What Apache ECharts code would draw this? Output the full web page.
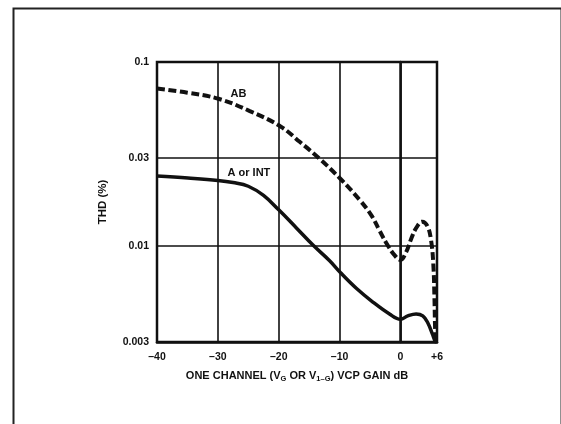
<!DOCTYPE html>
<html>
<head>
<meta charset="utf-8">
<script src="https://cdn.jsdelivr.net/npm/echarts@6/dist/echarts.min.js"></script>
<style>
html,body{margin:0;padding:0;background:#fff;}
#c{width:561px;height:424px;}
</style>
</head>
<body>
<div id="c"></div>
<script>
// Gain (dB) and THD (%) for class AB (dashed)
const abGain = [-40, -35, -29.9, -24.75, -19.7, -16.56, -13.3, -9.84, -6.72, -4.75, -3.44, -2.13, -0.98, 0, 0.93, 1.75, 2.57, 3.56, 4.43, 5.03, 5.4, 5.57, 5.74, 5.9];
const abThd  = [0.0717, 0.0681, 0.0631, 0.0541, 0.0446, 0.0368, 0.0298, 0.0231, 0.0178, 0.0146, 0.0121, 0.0101, 0.0089, 0.00838, 0.00925, 0.0109, 0.0125, 0.01354, 0.0128, 0.0107, 0.0079, 0.0054, 0.0032, 0.003];
// Gain (dB) and THD (%) for class A or INT (solid)
const aGain = [-40, -34.9, -30, -27.5, -25, -22.5, -20, -17.1, -14.38, -11.64, -9.84, -7.26, -4.54, -1.8, 0, 1.2, 2.57, 3.66, 4.48, 5.3, 5.74, 5.9];
const aThd  = [0.0240, 0.0234, 0.0227, 0.0221, 0.0211, 0.0188, 0.0157, 0.01252, 0.0101, 0.0083, 0.00714, 0.00588, 0.00495, 0.00426, 0.00399, 0.00416, 0.00426, 0.00416, 0.00382, 0.00328, 0.00301, 0.003];

const xTicks = [-40, -30, -20, -10, 0, 6];
const xTickLabels = ['\u201340', '\u201330', '\u201320', '\u201310', '0', '+6'];
const yTicks = [0.003, 0.01, 0.03, 0.1];
const yTickLabels = ['0.003', '0.01', '0.03', '0.1'];

const seriesNames = ['AB', 'A or INT'];
const labelGain = [-26.6, -24.9];
const labelThd = [0.0672, 0.0248];

const INK = '#111';
const FONT = 'Liberation Sans, Arial, sans-serif';

function pairs(xs, ys) { return xs.map((x, i) => [x, ys[i]]); }

const chart = echarts.init(document.getElementById('c'), null, {renderer: 'canvas'});
chart.setOption({
  animation: false,
  backgroundColor: '#fff',
  graphic: [{
    type: 'rect', left: 11, top: 6, z: -10,
    shape: {x: 0, y: 0, width: 548, height: 440},
    style: {fill: 'none', stroke: '#222', lineWidth: 2}
  }],
  grid: {left: 157, top: 62, right: 124, bottom: 82, show: true, borderColor: INK, borderWidth: 2.5, backgroundColor: 'transparent'},
  xAxis: {
    type: 'value', min: -40, max: 6,
    name: '{n|ONE CHANNEL (V}{s|G}{n| OR V}{s|1\u2013G}{n|) VCP GAIN dB}',
    nameLocation: 'middle', nameGap: 27,
    nameTextStyle: {
      rich: {
        n: {fontFamily: FONT, fontWeight: 'bold', fontSize: 11, color: INK, lineHeight: 14, verticalAlign: 'middle'},
        s: {fontFamily: FONT, fontWeight: 'bold', fontSize: 7.5, color: INK, lineHeight: 14, verticalAlign: 'bottom', padding: [6, 0, 0, 0]}
      }
    },
    axisLine: {show: true, lineStyle: {color: INK, width: 2.5}},
    axisTick: {show: false, customValues: xTicks},
    axisLabel: {
      customValues: xTicks, margin: 10,
      fontFamily: FONT, fontWeight: 'bold', fontSize: 10.5, color: INK,
      formatter: v => xTickLabels[xTicks.indexOf(v)]
    },
    splitLine: {show: true, lineStyle: {color: INK, width: 1.6}}
  },
  yAxis: {
    type: 'log', min: 0.003, max: 0.1, logBase: 10,
    name: 'THD (%)', nameLocation: 'middle', nameGap: 48, nameRotate: 90,
    nameTextStyle: {fontFamily: FONT, fontWeight: 'bold', fontSize: 11.5, color: INK},
    axisLine: {show: true, lineStyle: {color: INK, width: 2.5}},
    axisTick: {show: false, customValues: yTicks},
    axisLabel: {
      customValues: yTicks, margin: 8,
      fontFamily: FONT, fontWeight: 'bold', fontSize: 10.5, color: INK,
      formatter: v => { let best = 0; yTicks.forEach((t, i) => { if (Math.abs(Math.log(t) - Math.log(v)) < Math.abs(Math.log(yTicks[best]) - Math.log(v))) best = i; }); return yTickLabels[best]; }
    },
    splitLine: {show: true, lineStyle: {color: INK, width: 1.6}}
  },
  series: [
    {
      name: seriesNames[0], type: 'line', data: pairs(abGain, abThd),
      smooth: 0.4, symbol: 'none', clip: true,
      lineStyle: {color: INK, width: 4, type: [8, 3.5]},
      markPoint: {
        symbol: 'circle', symbolSize: 0,
        label: {show: true, formatter: seriesNames[0], fontFamily: FONT, fontWeight: 'bold', fontSize: 11, color: INK},
        data: [{coord: [labelGain[0], labelThd[0]]}]
      }
    },
    {
      name: seriesNames[1], type: 'line', data: pairs(aGain, aThd),
      smooth: 0.4, symbol: 'none', clip: true,
      lineStyle: {color: INK, width: 3.5},
      markPoint: {
        symbol: 'circle', symbolSize: 0,
        label: {show: true, formatter: seriesNames[1], fontFamily: FONT, fontWeight: 'bold', fontSize: 11, color: INK},
        data: [{coord: [labelGain[1], labelThd[1]]}]
      }
    }
  ]
});
</script>
</body>
</html>
